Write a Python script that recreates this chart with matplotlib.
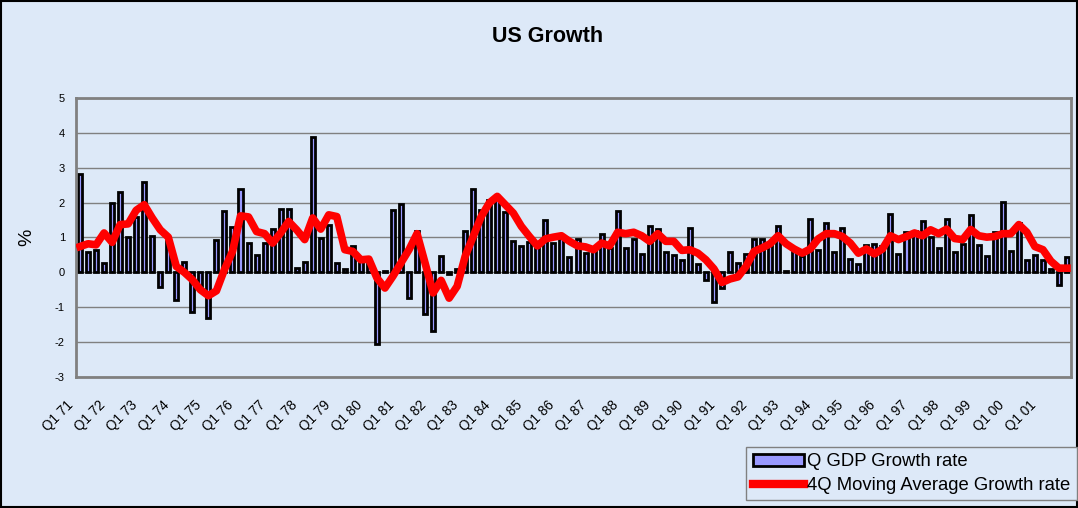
import matplotlib.pyplot as plt
from matplotlib.patches import Patch
from matplotlib.lines import Line2D
from matplotlib.transforms import ScaledTranslation

plt.rcParams['font.family'] = ['Liberation Sans', 'DejaVu Sans']
plt.rcParams['axes.unicode_minus'] = False

# quarterly GDP growth, Q1 71 .. Q4 01
years = ['71', '72', '73', '74', '75', '76', '77', '78', '79', '80',
         '81', '82', '83', '84', '85', '86', '87', '88', '89', '90',
         '91', '92', '93', '94', '95', '96', '97', '98', '99', '00', '01']
q_growth = [2.82, 0.58, 0.65, 0.27, 1.99, 2.31, 1.01, 1.60, 2.58, 1.05,
            -0.42, 0.90, -0.78, 0.29, -1.14, -0.40, -1.31, 0.92, 1.77, 1.29,
            2.40, 0.84, 0.51, 0.84, 1.24, 1.83, 1.83, 0.12, 0.29, 3.87,
            0.98, 1.35, 0.28, 0.10, 0.75, 0.40, 0.25, -2.05, 0.05, 1.80,
            1.97, -0.74, 1.20, -1.19, -1.67, 0.46, -0.05, 0.10, 1.18, 2.39,
            1.80, 2.08, 2.13, 1.72, 0.89, 0.77, 0.86, 0.75, 1.51, 0.84,
            1.00, 0.43, 0.96, 0.55, 0.60, 1.10, 0.70, 1.77, 0.69, 0.97,
            0.53, 1.32, 1.24, 0.57, 0.50, 0.36, 1.28, 0.25, -0.21, -0.85,
            -0.45, 0.58, 0.27, 0.54, 0.96, 0.96, 0.85, 1.33, 0.03, 0.70,
            0.46, 1.54, 0.65, 1.41, 0.57, 1.26, 0.38, 0.23, 0.79, 0.82,
            0.75, 1.67, 0.53, 1.17, 1.20, 1.46, 1.00, 0.71, 1.52, 0.57,
            0.82, 1.65, 0.78, 0.46, 1.17, 2.03, 0.60, 1.41, 0.36, 0.51,
            0.36, 0.10, -0.35, 0.43]
ma_growth = [0.74, 0.82, 0.79, 1.13, 0.86, 1.37, 1.39, 1.78, 1.94, 1.56,
             1.22, 1.01, 0.17, 0.00, -0.21, -0.50, -0.67, -0.53, 0.08, 0.60,
             1.62, 1.59, 1.17, 1.11, 0.84, 1.13, 1.46, 1.22, 0.94, 1.56,
             1.24, 1.65, 1.60, 0.65, 0.60, 0.36, 0.38, -0.16, -0.45, -0.11,
             0.27, 0.65, 1.11, 0.27, -0.59, -0.23, -0.74, -0.40, 0.46, 1.03,
             1.60, 1.99, 2.18, 1.94, 1.70, 1.32, 1.03, 0.76, 0.96, 1.01,
             1.05, 0.89, 0.76, 0.73, 0.65, 0.84, 0.76, 1.15, 1.11, 1.15,
             1.05, 0.89, 1.11, 0.89, 0.89, 0.63, 0.65, 0.55, 0.36, 0.10,
             -0.29, -0.19, -0.13, 0.17, 0.60, 0.70, 0.82, 1.05, 0.82, 0.67,
             0.55, 0.67, 0.96, 1.11, 1.11, 1.03, 0.84, 0.55, 0.67, 0.53,
             0.67, 1.05, 0.94, 1.03, 1.13, 1.05, 1.22, 1.11, 1.24, 0.97,
             0.94, 1.23, 1.05, 1.01, 1.03, 1.11, 1.11, 1.37, 1.15, 0.74,
             0.65, 0.32, 0.12, 0.12]
tick_labels = ['Q1 ' + y for y in years]

bg = '#dde9f8'
fig = plt.figure(figsize=(10.78, 5.08), dpi=100, facecolor=bg)
ax = fig.add_axes([0.0705, 0.258, 0.923, 0.549], facecolor=bg)

x = list(range(len(q_growth)))
ax.bar(x, q_growth, width=0.5, color='#9999ff', edgecolor='black',
       linewidth=2.0, zorder=2)
ax.plot(x, ma_growth, color='#ff0000', linewidth=5.5, zorder=3)

ax.set_xlim(-0.5, len(q_growth) - 0.5)
ax.set_ylim(-3, 5)
ax.set_yticks(range(-3, 6))
ax.set_xticks(x[::4])
ax.set_xticklabels([])
# slanted category labels, set down-left of each tick like the original
lab_tr = ax.get_xaxis_transform() + ScaledTranslation(-14 / 100, -21 / 100,
                                                      fig.dpi_scale_trans)
for pos, lab in zip(x[::4], tick_labels):
    ax.text(pos, 0, lab, transform=lab_tr, rotation=45, ha='right', va='top',
            rotation_mode='anchor', fontsize=9.8)
ax.tick_params(axis='y', labelsize=8, length=0, pad=8)
ax.tick_params(axis='x', length=0)
ax.grid(axis='y', color='#808080', linewidth=1.0, zorder=0)
for s in ax.spines.values():
    s.set_color('#808080')
    s.set_linewidth(2)
ax.set_ylabel('%', fontsize=14, labelpad=14)

fig.text(0.508, 0.929, 'US Growth', ha='center', va='center',
         fontsize=15.5, fontweight='bold')

handles = [Patch(facecolor='#9999ff', edgecolor='black', linewidth=2.0),
           Line2D([0], [0], color='#ff0000', linewidth=6)]
leg = fig.legend(handles, ['Q GDP Growth rate', '4Q Moving Average Growth rate'],
                 loc='lower right', bbox_to_anchor=(0.999, 0.015),
                 fontsize=13.3, frameon=True, fancybox=False, framealpha=1,
                 facecolor=bg, edgecolor='#808080', handlelength=2.8,
                 handleheight=0.6, handletextpad=0.15, borderpad=0.35,
                 labelspacing=0.35, borderaxespad=0)
leg.get_frame().set_linewidth(1)

fig.patches.append(plt.Rectangle((0.001, 0.001), 0.998, 0.998, fill=False,
                                 edgecolor='black', linewidth=1.5,
                                 transform=fig.transFigure))

fig.savefig('out.png', dpi=100, facecolor=bg)
